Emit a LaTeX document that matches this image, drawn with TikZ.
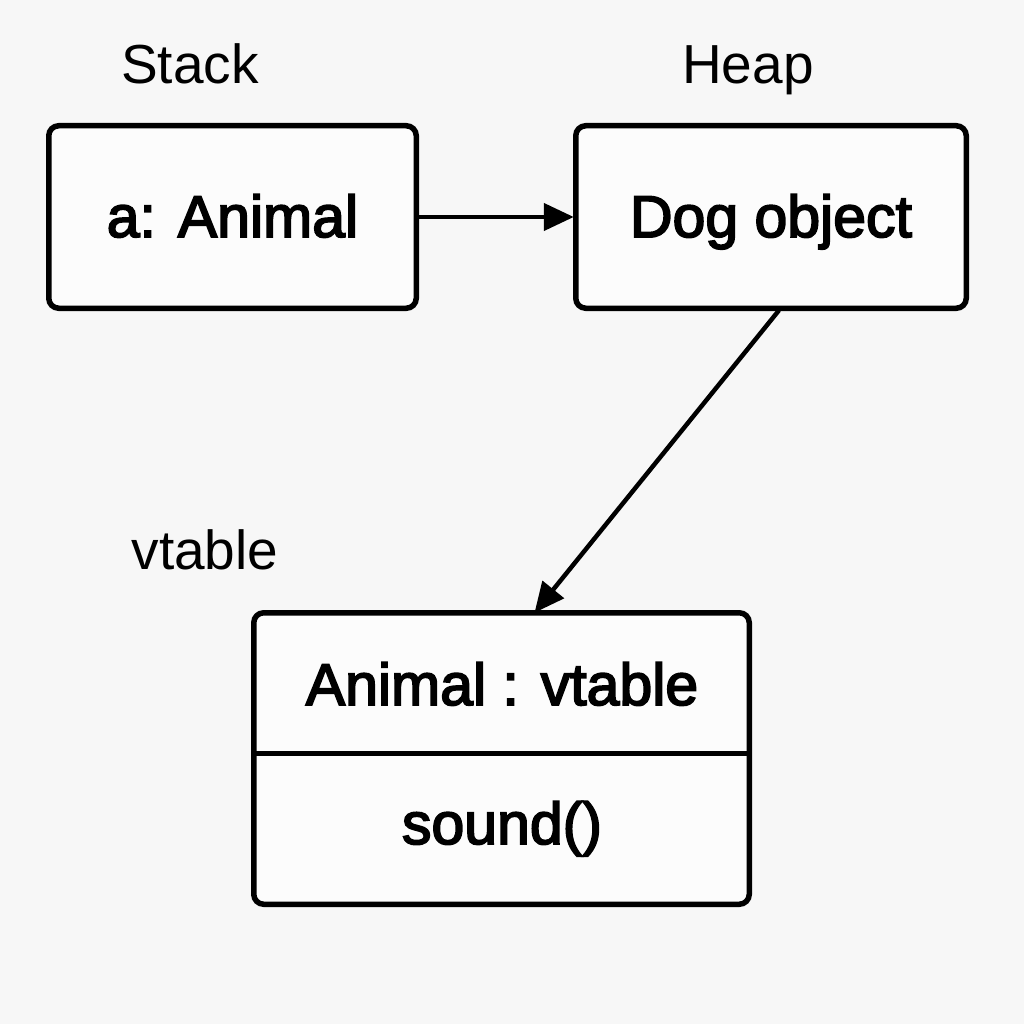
\documentclass[tikz,border=0pt]{standalone}
\usepackage{fontspec}
\setmainfont{Liberation Sans}
\newfontfamily\boxfont[FakeBold=3]{Liberation Sans}
\usetikzlibrary{arrows.meta}
\definecolor{bg}{HTML}{F7F7F7}
\definecolor{boxbg}{HTML}{FCFCFC}
\begin{document}
\begin{tikzpicture}[x=1pt,y=-1pt,
  memBox/.style={draw=black, fill=boxbg, line width=5.5pt, rounded corners=10pt, outer sep=0pt, inner sep=0pt},
  boxText/.style={anchor=base, font=\boxfont\fontsize{59}{62}\selectfont},
  lblText/.style={anchor=base, font=\fontsize{55}{58}\selectfont},
  ptr/.style={line width=4.5pt, -{Triangle[length=30pt,width=27pt]}}]
\fill[bg] (0,0) rectangle (1024,1024);
\useasboundingbox (0,0) rectangle (1024,1024);
\node[memBox, minimum width=367.5pt, minimum height=182.5pt] (stack) at (232.5,217) {};
\node[memBox, minimum width=390.5pt, minimum height=182.5pt] (heap) at (771,217) {};
\node[memBox, minimum width=495.5pt, minimum height=291.5pt] (vt) at (501.5,758.5) {};
\draw[line width=5pt] (vt.west |- 0,753) coordinate (dl) -- (vt.east |- 0,753) coordinate (dr);
\node[lblText] (lstack) at (190,84) {Stack};
\node[lblText] (lheap) at (748,84) {Heap};
\node[lblText] (lvt) at (205,569) {vtable};
\node[boxText] (ta) at (232.5,237) {a: Animal};
\node[boxText] (td) at (771,237) {Dog object};
\node[boxText] (tv) at (502,705) {Animal : vtable};
\node[boxText] (ts) at (502,844) {sound()};
\draw[ptr] ([xshift=3pt]stack.east) -- ([xshift=-2pt]heap.west);
\draw[ptr] ([xshift=8pt,yshift=-2pt]heap.south) -- ([xshift=33pt]vt.north);
\end{tikzpicture}
\end{document}
